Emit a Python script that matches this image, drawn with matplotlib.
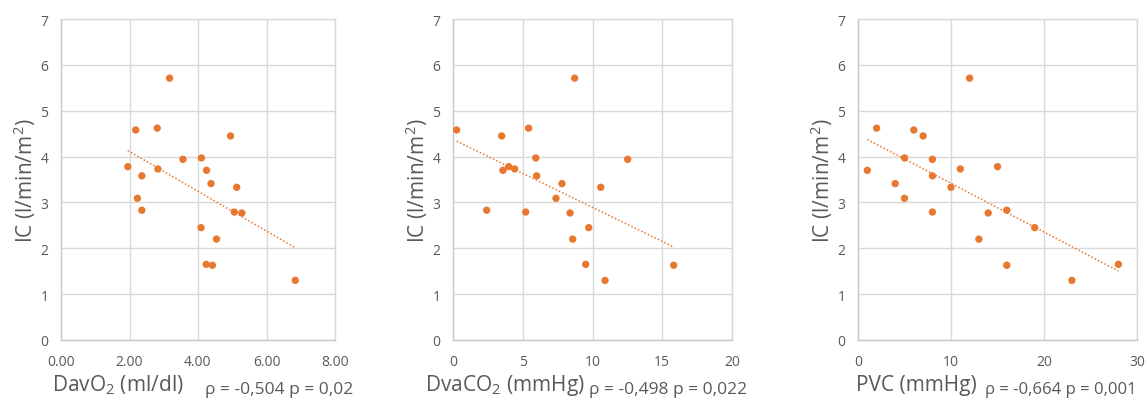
import numpy as np
import matplotlib
matplotlib.use("Agg")
import matplotlib.pyplot as plt

plt.rcParams['font.family'] = ['Open Sans', 'DejaVu Sans']
plt.rcParams['mathtext.fontset'] = 'custom'
plt.rcParams['mathtext.rm'] = 'Open Sans'
plt.rcParams['mathtext.it'] = 'Open Sans:italic'
plt.rcParams['mathtext.bf'] = 'Open Sans:bold'

# cardiac index (same patients in every panel)
ic_davo2 = [3.78, 4.58, 3.09, 3.58, 2.83, 4.62, 3.73, 5.71, 3.94, 3.97, 2.45,
            3.70, 1.65, 3.41, 1.63, 2.20, 4.45, 2.79, 3.33, 2.77, 1.30]
davo2 = [1.95, 2.18, 2.23, 2.36, 2.36, 2.81, 2.83, 3.17, 3.56, 4.10, 4.09,
         4.25, 4.24, 4.38, 4.42, 4.54, 4.95, 5.06, 5.13, 5.28, 6.84]

ic_dvaco2 = [4.58, 2.83, 4.45, 3.70, 3.78, 3.73, 2.79, 4.62, 3.97, 3.58, 3.09,
             3.41, 2.77, 2.20, 5.71, 1.65, 2.45, 3.33, 1.30, 3.94, 1.63]
dvaco2 = [0.26, 2.41, 3.49, 3.58, 3.99, 4.42, 5.21, 5.42, 5.93, 6.00, 7.38,
          7.81, 8.39, 8.58, 8.72, 9.51, 9.73, 10.59, 10.90, 12.52, 15.82]

ic_pvc = [3.70, 4.62, 3.41, 3.97, 3.09, 4.58, 4.45, 3.94, 3.58, 2.79, 3.33,
          3.73, 5.71, 2.20, 2.77, 3.78, 2.83, 1.63, 2.45, 1.30, 1.65]
pvc = [1, 2, 4, 5, 5, 6, 7, 8, 8, 8, 10, 11, 12, 13, 14, 15, 16, 16, 19, 23, 28]

x_labels = ['DavO$_2$ (ml/dl)', 'DvaCO$_2$ (mmHg)', 'PVC (mmHg)']
stats = ['ρ = -0,504 p = 0,02', 'ρ = -0,498 p = 0,022', 'ρ = -0,664 p = 0,001']
x_limits = [(0, 8), (0, 20), (0, 30)]
x_steps = [2, 5, 10]
x_fmt = ['{:.2f}', '{:.0f}', '{:.0f}']

ORANGE = '#E8782F'
GRID = '#d9d9d9'
TXT = '#595959'

W, H = 1148, 402
fig = plt.figure(figsize=(W / 100, H / 100), dpi=100)

# axes boxes in pixels: left, right
boxes = [(61, 335), (453, 732), (858, 1137)]
top_px, bot_px = 20, 341
xlabel_px = [52, 425, 856]
stat_px = [205, 589, 985]
stat_size = [12.5, 12.5, 12]

panels = [(davo2, ic_davo2), (dvaco2, ic_dvaco2), (pvc, ic_pvc)]

for i, ((xs, ys), (l, r)) in enumerate(zip(panels, boxes)):
    ax = fig.add_axes([l / W, 1 - bot_px / H, (r - l) / W, (bot_px - top_px) / H])
    xs = np.array(xs)
    ys = np.array(ys)
    ax.scatter(xs, ys, s=28, color=ORANGE, edgecolors='none', zorder=3)
    # linear trend line over the data range
    k, b = np.polyfit(xs, ys, 1)
    xl = np.array([xs.min(), xs.max()])
    ax.plot(xl, k * xl + b, color=ORANGE, lw=1.1, linestyle=(0, (1, 1.4)), zorder=2)

    lo, hi = x_limits[i]
    ax.set_xlim(lo, hi)
    ax.set_ylim(0, 7)
    xt = np.arange(lo, hi + 0.001, x_steps[i])
    ax.set_xticks(xt)
    ax.set_xticklabels([x_fmt[i].format(v) for v in xt])
    ax.set_yticks(range(0, 8))
    ax.grid(True, color=GRID, lw=1)
    ax.set_axisbelow(True)
    for s in ax.spines.values():
        s.set_color(GRID)
        s.set_linewidth(1)
    ax.spines['left'].set_color('#c8c8c8')
    ax.spines['bottom'].set_color('#c8c8c8')
    ax.tick_params(length=0, labelsize=10, labelcolor=TXT)
    ax.tick_params(axis='x', pad=10)
    ax.tick_params(axis='y', pad=9)

    fig.text((l - 36) / W, 1 - 181 / H, 'IC (l/min/m$^2$)', fontsize=15, color=TXT,
             rotation=90, ha='center', va='center')
    fig.text(xlabel_px[i] / W, 1 - 391 / H, x_labels[i], fontsize=15, color=TXT,
             ha='left', va='baseline')
    fig.text(stat_px[i] / W, 1 - 394 / H, stats[i], fontsize=stat_size[i], color=TXT,
             ha='left', va='baseline')

fig.savefig('out.png', dpi=100, facecolor='white')
